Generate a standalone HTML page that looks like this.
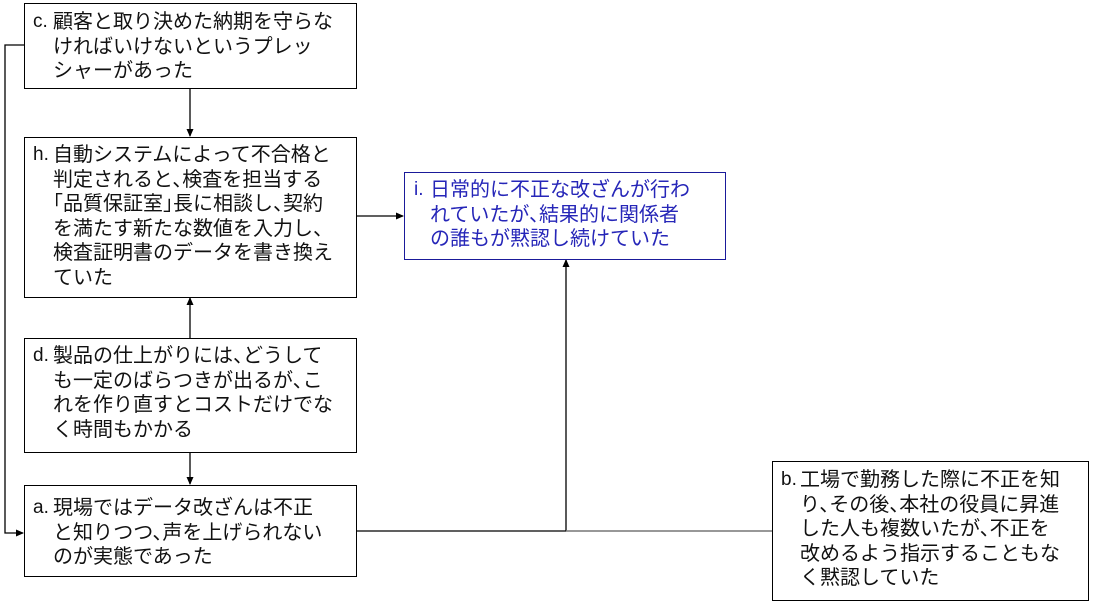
<!DOCTYPE html>
<html><head><meta charset="utf-8"><style>
body{margin:0;width:1093px;height:607px;background:#fff;position:relative;overflow:hidden;font-family:"Liberation Sans","Noto Sans CJK JP",sans-serif;}
.b{position:absolute;border:1px solid #000;box-sizing:border-box;background:#fff;}
.t{position:absolute;font-size:20px;line-height:24.5px;white-space:nowrap;color:#111;font-feature-settings:"halt";}
.p{position:absolute;font-size:19px;line-height:24.5px;color:#111;}
.blue .t,.blue .p{color:#2626b8;}
svg{position:absolute;left:0;top:0;}
</style></head><body>
<svg width="1093" height="607">
<defs><marker id="ar" markerWidth="8" markerHeight="8" refX="7" refY="4" orient="auto" markerUnits="userSpaceOnUse"><path d="M0,0.5 L8,4 L0,7.5z" fill="#000"/></marker></defs>
<g stroke="#000" stroke-width="1.3" fill="none">
<line x1="190" y1="88" x2="190" y2="136" marker-end="url(#ar)"/>
<line x1="190" y1="338" x2="190" y2="298" marker-end="url(#ar)"/>
<line x1="190" y1="452" x2="190" y2="484" marker-end="url(#ar)"/>
<line x1="356" y1="216" x2="403" y2="216" marker-end="url(#ar)"/>
<polyline points="24,45 5,45 5,533 23,533" marker-end="url(#ar)"/>
<line x1="356" y1="531" x2="566" y2="531"/>
<line x1="566" y1="531" x2="566" y2="260" marker-end="url(#ar)"/>
</g>
<line x1="566" y1="531" x2="772" y2="531" stroke="#777" stroke-width="1.5"/>
</svg>

<div class="b" style="left:24px;top:3px;width:333px;height:86px"></div>
<div class="p" style="left:33px;top:10px">c.</div>
<div class="t" style="left:53px;top:10px">顧客と取り決めた納期を守らな<br>ければいけないというプレッ<br>シャーがあった</div>

<div class="b" style="left:24px;top:137px;width:333px;height:161px"></div>
<div class="p" style="left:33px;top:143px">h.</div>
<div class="t" style="left:53px;top:143px">自動システムによって不合格と<br>判定されると、検査を担当する<br>「品質保証室」長に相談し、契約<br>を満たす新たな数値を入力し、<br>検査証明書のデータを書き換え<br>ていた</div>

<div class="b" style="left:24px;top:338px;width:333px;height:115px"></div>
<div class="p" style="left:33px;top:344px">d.</div>
<div class="t" style="left:53px;top:344px">製品の仕上がりには、どうして<br>も一定のばらつきが出るが、こ<br>れを作り直すとコストだけでな<br>く時間もかかる</div>

<div class="b" style="left:24px;top:485px;width:333px;height:92px"></div>
<div class="p" style="left:33px;top:496px">a.</div>
<div class="t" style="left:53px;top:496px">現場ではデータ改ざんは不正<br>と知りつつ、声を上げられない<br>のが実態であった</div>

<div class="b" style="left:404px;top:172px;width:322px;height:88px;border-color:#1a1a9a"></div>
<div class="blue">
<div class="p" style="left:414px;top:178px">i.</div>
<div class="t" style="left:430px;top:178px">日常的に不正な改ざんが行わ<br>れていたが、結果的に関係者<br>の誰もが黙認し続けていた</div>
</div>

<div class="b" style="left:772px;top:461px;width:317px;height:140px"></div>
<div class="p" style="left:781px;top:468px">b.</div>
<div class="t" style="left:800px;top:468px">工場で勤務した際に不正を知<br>り、その後、本社の役員に昇進<br>した人も複数いたが、不正を<br>改めるよう指示することもな<br>く黙認していた</div>
</body></html>
